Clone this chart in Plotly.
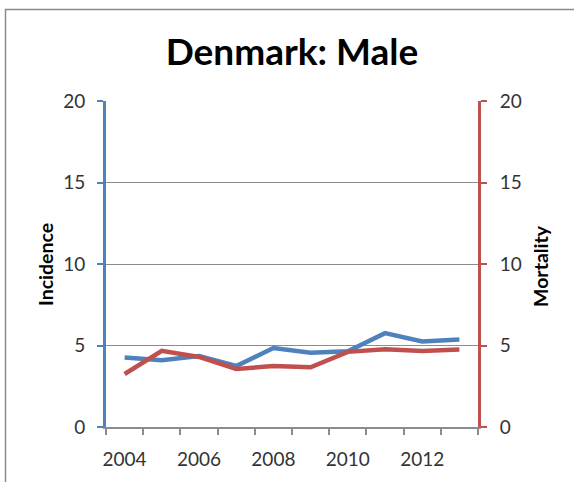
import plotly.graph_objects as go

years = [2004, 2005, 2006, 2007, 2008, 2009, 2010, 2011, 2012, 2013]
incidence = [4.26, 4.10, 4.35, 3.74, 4.85, 4.56, 4.65, 5.76, 5.25, 5.37]
mortality = [3.25, 4.67, 4.30, 3.56, 3.74, 3.66, 4.61, 4.77, 4.67, 4.75]
x_tick_labels = [2004, 2006, 2008, 2010, 2012]
y_ticks = [0, 5, 10, 15, 20]

BLUE = "#4F81BD"
RED = "#C0504D"
GRID = "#8c8c8c"
FONT = "Lato"

W, H = 574, 482
L, R, T, B = 106, 96, 101, 51
pw, ph = W - L - R, H - T - B

def px(xp):
    return (xp - L) / pw

def py(yp):
    return (H - B - yp) / ph

fig = go.Figure()
fig.add_trace(go.Scatter(x=years, y=incidence, mode="lines", name="Incidence",
                         line=dict(color=BLUE, width=4.5), yaxis="y"))
fig.add_trace(go.Scatter(x=years, y=mortality, mode="lines", name="Mortality",
                         line=dict(color=RED, width=4.5), yaxis="y2"))

fig.update_layout(
    width=W, height=H,
    margin=dict(l=L, r=R, t=T, b=B, pad=0),
    paper_bgcolor="white", plot_bgcolor="white",
    showlegend=False,
    font=dict(family=FONT, color="#333333", size=19),
    title=dict(text="<b>Denmark: Male</b>", x=px(292), xanchor="center",
               xref="paper", y=1 - 52 / H, yanchor="middle", yref="container",
               font=dict(family=FONT, size=37, color="#000000")),
    xaxis=dict(range=[2003.5, 2013.5], tickmode="array", tickvals=x_tick_labels,
               ticktext=[str(v) for v in x_tick_labels], ticks="", showgrid=False,
               showline=True, linecolor=GRID, linewidth=1.5, zeroline=False,
               ticklabelstandoff=14,
               minor=dict(tickmode="array", tickvals=[y + 0.5 for y in [2003] + years],
                          ticks="outside", ticklen=6, tickcolor=GRID, tickwidth=1.5,
                          showgrid=False),
               tickfont=dict(size=19, color="#333333")),
    yaxis=dict(range=[0, 20], tickmode="array", tickvals=y_ticks,
               showgrid=True, gridcolor=GRID, gridwidth=1, zeroline=False,
               showline=True, linecolor=BLUE, linewidth=3,
               ticks="outside", ticklen=6, tickcolor=BLUE, tickwidth=2,
               ticklabelstandoff=8,
               tickfont=dict(size=19, color="#333333")),
    yaxis2=dict(range=[0, 20], tickmode="array", tickvals=y_ticks, overlaying="y",
                side="right", showgrid=False, zeroline=False,
                showline=True, linecolor=RED, linewidth=3,
                ticks="outside", ticklen=6, tickcolor=RED, tickwidth=2,
                ticklabelstandoff=9,
                tickfont=dict(size=19, color="#333333")),
    annotations=[
        dict(text="<b>Incidence</b>", x=px(46), y=py(267), xref="paper", yref="paper",
             textangle=-90, showarrow=False, xanchor="center", yanchor="middle",
             font=dict(family=FONT, size=19.5, color="#000000")),
        dict(text="<b>Mortality</b>", x=px(541), y=py(268), xref="paper", yref="paper",
             textangle=-90, showarrow=False, xanchor="center", yanchor="middle",
             font=dict(family=FONT, size=19.5, color="#000000")),
    ],
    shapes=[
        dict(type="rect", xref="paper", yref="paper", x0=px(5.5), x1=px(590),
             y0=py(495), y1=py(8.5), line=dict(color="#8a8a8a", width=1.5),
             fillcolor="rgba(0,0,0,0)", layer="below"),
    ],
)

fig.write_html("out.html", config={"displayModeBar": False},
               post_script="document.body.style.margin='0px';")
